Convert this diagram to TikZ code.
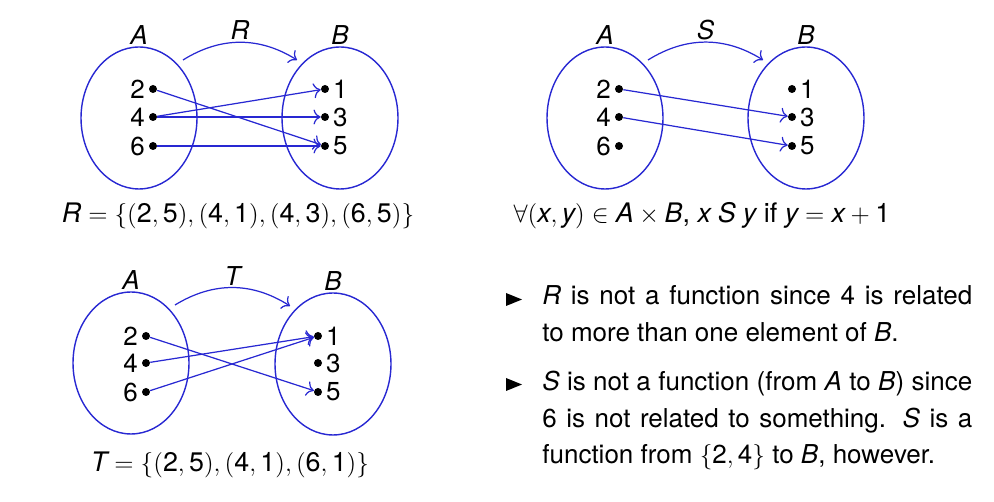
\documentclass[tikz,border=0pt]{standalone}
\usepackage{mathspec}
\setmainfont{TeX Gyre Heros}
\setmathsfont(Digits,Latin)[Scale=1]{TeX Gyre Heros}
\usetikzlibrary{positioning, shapes.geometric, arrows.meta}
\definecolor{mapblue}{RGB}{40,40,210}

\begin{document}
\begin{tikzpicture}[
    x=0.02cm, y=-0.02cm,
    font=\fontsize{14.8}{20.7}\selectfont,
    setnode/.style={
        draw=mapblue, line width=0.8pt, ellipse, inner sep=0pt,
        minimum width=2.32cm, minimum height=2.84cm, label distance=2pt
    },
    setlabel/.style={inner sep=1pt},
    elemdot/.style={
        circle, fill=black, inner sep=0pt, minimum size=0.16cm, label distance=4.5pt
    },
    elemlabel/.style={inner sep=2pt},
    maparrow/.style={draw=mapblue, line width=0.7pt, -{To[scale=1.3]}},
    formula/.style={anchor=base, inner sep=0pt, font=\fontsize{15.3}{20.7}\selectfont},
    itemtext/.style={anchor=base west, inner sep=0pt, text width=8.6cm, align=justify}
]

\useasboundingbox (0,0) rectangle (994,502);

% ==========================================
% RELATION R (top left)
% ==========================================

\node[setnode, label={[setlabel]above:$A$}] (RsetA) at (139,118) {};
\node[setnode, label={[setlabel]above:$B$}] (RsetB) at (340,118) {};

\node[elemdot, label={[elemlabel]left:2}] (RA2) at (153,89) {};
\node[elemdot, label={[elemlabel]left:4}] (RA4) at (153,117) {};
\node[elemdot, label={[elemlabel]left:6}] (RA6) at (153,146) {};

\node[elemdot, label={[elemlabel]right:1}] (RB1) at (325,89) {};
\node[elemdot, label={[elemlabel]right:3}] (RB3) at (325,117) {};
\node[elemdot, label={[elemlabel]right:5}] (RB5) at (325,146) {};

\draw[maparrow] ([shift={(44,-58)}]RsetA.center) to[bend left=32]
    node[above, inner sep=1pt] {$R$} ([shift={(-43,-58)}]RsetB.center);

\draw[maparrow] (RA2) -- (RB5);
\draw[maparrow] (RA4) -- (RB1);
\draw[maparrow] (RA4) -- (RB3);
\draw[maparrow] (RA6) -- (RB5);

\node[formula] (Rpairs) at (238,223) {$R=\{(2,5),(4,1),(4,3),(6,5)\}$};

% ==========================================
% RELATION S (top right)
% ==========================================

\node[setnode, label={[setlabel]above:$A$}] (SsetA) at (605,118) {};
\node[setnode, label={[setlabel]above:$B$}] (SsetB) at (806,118) {};

\node[elemdot, label={[elemlabel]left:2}] (SA2) at (619,89) {};
\node[elemdot, label={[elemlabel]left:4}] (SA4) at (619,117) {};
\node[elemdot, label={[elemlabel]left:6}] (SA6) at (619,146) {};

\node[elemdot, label={[elemlabel]right:1}] (SB1) at (792,89) {};
\node[elemdot, label={[elemlabel]right:3}] (SB3) at (792,117) {};
\node[elemdot, label={[elemlabel]right:5}] (SB5) at (792,146) {};

\draw[maparrow] ([shift={(43,-58)}]SsetA.center) to[bend left=32]
    node[above, inner sep=1pt] {$S$} ([shift={(-43,-58)}]SsetB.center);

\draw[maparrow] (SA2) -- (SB3);
\draw[maparrow] (SA4) -- (SB5);

\node[formula] (Srule) at (702,223) {$\forall(x,y)\in A\times B$, $x\mathrel{S}y$ if $y=x+1$};

% ==========================================
% RELATION T (bottom left)
% ==========================================

\node[setnode, label={[setlabel]above:$A$}] (TsetA) at (131,363) {};
\node[setnode, label={[setlabel]above:$B$}] (TsetB) at (333,364) {};

\node[elemdot, label={[elemlabel]left:2}] (TA2) at (146,336) {};
\node[elemdot, label={[elemlabel]left:4}] (TA4) at (146,363) {};
\node[elemdot, label={[elemlabel]left:6}] (TA6) at (146,392) {};

\node[elemdot, label={[elemlabel]right:1}] (TB1) at (318,336) {};
\node[elemdot, label={[elemlabel]right:3}] (TB3) at (318,363) {};
\node[elemdot, label={[elemlabel]right:5}] (TB5) at (318,392) {};

\draw[maparrow] ([shift={(44,-58)}]TsetA.center) to[bend left=32]
    node[above, inner sep=1pt] {$T$} ([shift={(-43,-58)}]TsetB.center);

\draw[maparrow] (TA2) -- (TB5);
\draw[maparrow] (TA4) -- (TB1);
\draw[maparrow] (TA6) -- (TB1);

\node[formula] (Tpairs) at (230,472) {$T=\{(2,5),(4,1),(6,1)\}$};

% ==========================================
% REMARKS (bottom right)
% ==========================================

\fill (506,293) -- (522,299.5) -- (506,306) -- cycle;
\node[itemtext] (NoteR) at (542,305)
    {$R$ is not a function since 4 is related\linebreak to more than one element of $B$.};

\fill (506,378) -- (522,384.5) -- (506,391) -- cycle;
\node[itemtext] (NoteS) at (542,391)
    {$S$ is not a function (from $A$ to $B$) since\linebreak 6 is not related to something.  $S$ is a\linebreak function from $\{2,4\}$ to $B$, however.};

\end{tikzpicture}
\end{document}
